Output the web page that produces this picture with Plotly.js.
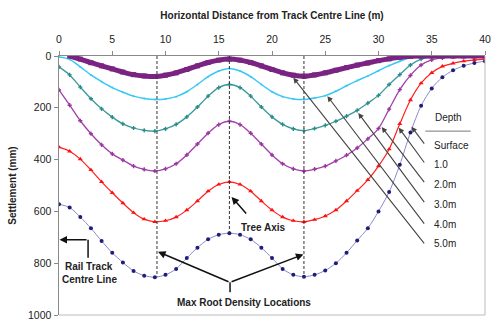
<!DOCTYPE html>
<html><head><meta charset="utf-8">
<script src="https://cdn.plot.ly/plotly-3.0.1.min.js"></script>
<style>html,body{margin:0;padding:0;background:#fff}#chart{width:491px;height:322px}</style>
</head><body><div id="chart"></div>
<script>
// Horizontal distance from track centre line (m)
const distance = [0,1,2,3,4,5,6,7,8,9,10,11,12,13,14,15,16,17,18,19,20,21,22,23,24,25,26,27,28,29,30,31,32,33,34,35,36,37,38,39,40];
// Settlement (mm) at each depth
const surface = [null,0,12,26,38,50,62,72,77,79,74,65,52,38,25,16,12,16,25,38,52,65,74,78,73,65,55,45,35,27,18,11,5,1,0,0,0,0,0,0,0];
const depth1 = [4,13,42,73,99,122,140,155,164,168,166,157,138,110,80,58,48,58,80,110,138,157,166,168,162,153,136,115,95,77,57,37,20,7,1,0,0,0,0,0,0];
const depth2 = [42,73,120,165,204,236,262,278,287,290,281,264,235,197,155,122,110,122,155,197,235,264,281,288,280,268,252,232,210,182,152,110,72,35,12,4,1,0,0,0,0];
const depth3 = [131,190,250,300,343,378,402,425,438,444,436,416,382,340,298,265,252,265,298,340,382,416,436,444,437,425,405,383,355,320,280,205,130,75,35,15,7,3,1,0,0];
const depth4 = [352,368,398,440,486,528,568,605,630,640,636,622,595,560,522,496,486,496,522,560,595,622,636,640,632,618,595,560,520,478,425,360,262,170,105,65,40,28,20,15,12];
const depth5 = [572,585,622,665,714,760,797,830,848,854,845,822,780,740,708,690,684,690,708,740,780,822,845,852,845,828,800,760,712,665,600,525,420,295,192,125,82,55,38,27,20];

const legendTitle = 'Depth';
const depthLabels = ['Surface','1.0','2.0m','3.0m','4.0m','5.0m'];
const depthLabelY = [344,419,496,572,649,725];
// leader-line tips on the curves (Surface, 1.0, 2.0, 3.0, 4.0, 5.0 curves)
const leaderTipX = [22.0,25.2,28.1,30.3,31.9,33.1];
const leaderTipY = [84,155,220,274,277,273];
const leaderTailX = 34.4;
const leaderTailY = [729,653,570,493,417,344];

const rootDensityX = [9.2, 23.0];
const treeAxisX = 16.0;

function settlementAt(series, x) {
  for (let i = 0; i < distance.length - 1; i++) {
    if (x >= distance[i] && x <= distance[i+1]) {
      const t = (x - distance[i]) / (distance[i+1] - distance[i]);
      return series[i] + t * (series[i+1] - series[i]);
    }
  }
  return 0;
}

const F = 'Liberation Sans, Arial, sans-serif';

function tr(y, name, lineColor, lineWidth, symbol, msize, mcolor) {
  return {
    x: distance, y: y, name: name, type: 'scatter', mode: 'lines+markers',
    line: {color: lineColor, width: lineWidth, shape: 'spline', smoothing: 0.8},
    marker: {symbol: symbol, size: msize, color: mcolor},
    connectgaps: false, hoverinfo: 'skip'
  };
}

const traces = [
  tr(depth5, '5.0m', '#8a8ac8', 1, 'circle', 4, '#1e1e7a'),
  tr(depth4, '4.0m', '#ff2020', 1.2, 'triangle-up', 4.5, '#ff1010'),
  tr(depth3, '3.0m', '#a040a8', 1.3, 'cross', 3.5, '#9a35a0'),
  tr(depth2, '2.0m', '#3a9a9a', 1.3, 'cross', 3.5, '#2a8a8a'),
  tr(depth1, '1.0', '#38c8f5', 1.5, 'circle', 2, '#38c8f5'),
  tr(surface, 'Surface', '#7b2382', 5, 'square', 5, '#7b2382')
];

const shapes = [];
// dashed reference lines (root density and tree axis) down to the 5.0m curve
rootDensityX.concat([treeAxisX]).forEach(xv => {
  shapes.push({type:'line', xref:'x', yref:'y', x0:xv, x1:xv, y0:0, y1:settlementAt(depth5, xv),
    line:{color:'#333', width:1, dash:'3px,2px'}});
});
// stems
const maxRootJunction = [16.06, 874];
const maxRootStemEnd = 912;
const railArrowY = 709, railElbowX = 2.73, railStemEnd = 779;
shapes.push({type:'line', xref:'x', yref:'y', x0:maxRootJunction[0], x1:maxRootJunction[0], y0:maxRootJunction[1], y1:maxRootStemEnd, line:{color:'#111', width:1.5}});
shapes.push({type:'line', xref:'x', yref:'y', x0:railElbowX, x1:railElbowX, y0:railArrowY, y1:railStemEnd, line:{color:'#111', width:1.5}});
// legend underline
shapes.push({type:'line', xref:'x', yref:'y', x0:34.4, x1:38.65, y0:290, y1:290, line:{color:'#777', width:1}});
// right & bottom frame
shapes.push({type:'line', xref:'paper', yref:'paper', x0:1, x1:1, y0:0, y1:1, line:{color:'#bbb', width:1}});
shapes.push({type:'line', xref:'paper', yref:'paper', x0:0, x1:1, y0:0, y1:0, line:{color:'#bbb', width:1}});

const annotations = [];
function arrow(x, y, ax, ay, color, width) {
  annotations.push({x:x, y:y, ax:ax, ay:ay, xref:'x', yref:'y', axref:'x', ayref:'y',
    text:'', showarrow:true, arrowhead:2, arrowsize:1, arrowwidth:width, arrowcolor:color});
}
for (let i = 0; i < leaderTipX.length; i++) arrow(leaderTipX[i], leaderTipY[i], leaderTailX, leaderTailY[i], '#444', 1.1);
arrow(9.3, 756, maxRootJunction[0], maxRootJunction[1], '#111', 1.5);
arrow(22.95, 766, maxRootJunction[0], maxRootJunction[1], '#111', 1.5);
arrow(0.05, railArrowY, railElbowX, railArrowY, '#111', 1.5);
arrow(16.2, 544, 17.7, 614, '#111', 1.5);

function label(text, x, y, anchor, bold) {
  annotations.push({x:x, y:y, xref:'x', yref:'y', text: bold ? '<b>'+text+'</b>' : text,
    showarrow:false, xanchor:anchor, yanchor:'middle', font:{family:F, size:10, color:'#222'}});
}
label(legendTitle, 36.57, 237, 'center', false);
depthLabels.forEach((t, i) => label(t, 35.06, depthLabelY[i], 'left', false));
label('Tree Axis', 19.2, 661, 'center', true);
label('Max Root Density Locations', 17.4, 953, 'center', true);
label('Rail Track', 2.85, 813, 'center', true);
label('Centre Line', 2.85, 862, 'center', true);

const axisCommon = {
  showgrid:false, zeroline:false, showline:true, linecolor:'#8a8a8a', linewidth:1.5,
  ticks:'outside', ticklen:4, tickcolor:'#8a8a8a', tickwidth:1, ticklabeloverflow:'allow',
  tickfont:{family:F, size:10.5, color:'#222'}
};

const layout = {
  width:491, height:322,
  margin:{l:59, r:6, t:56, b:7},
  paper_bgcolor:'#fff', plot_bgcolor:'#fff',
  showlegend:false,
  xaxis: Object.assign({}, axisCommon, {
    side:'top', range:[0,40], tick0:0, dtick:5, ticklabelstandoff:3,
    title:{text:'<b>Horizontal Distance from Track Centre Line (m)</b>', font:{family:F, size:10, color:'#222'}, standoff:12}
  }),
  yaxis: Object.assign({}, axisCommon, {
    range:[1000,0], tick0:0, dtick:200,
    title:{text:'<b>Settlement (mm)</b>', font:{family:F, size:10, color:'#222'}, standoff:9}
  }),
  shapes: shapes,
  annotations: annotations
};

Plotly.newPlot('chart', traces, layout, {displayModeBar:false, staticPlot:true});
</script>
</body></html>
